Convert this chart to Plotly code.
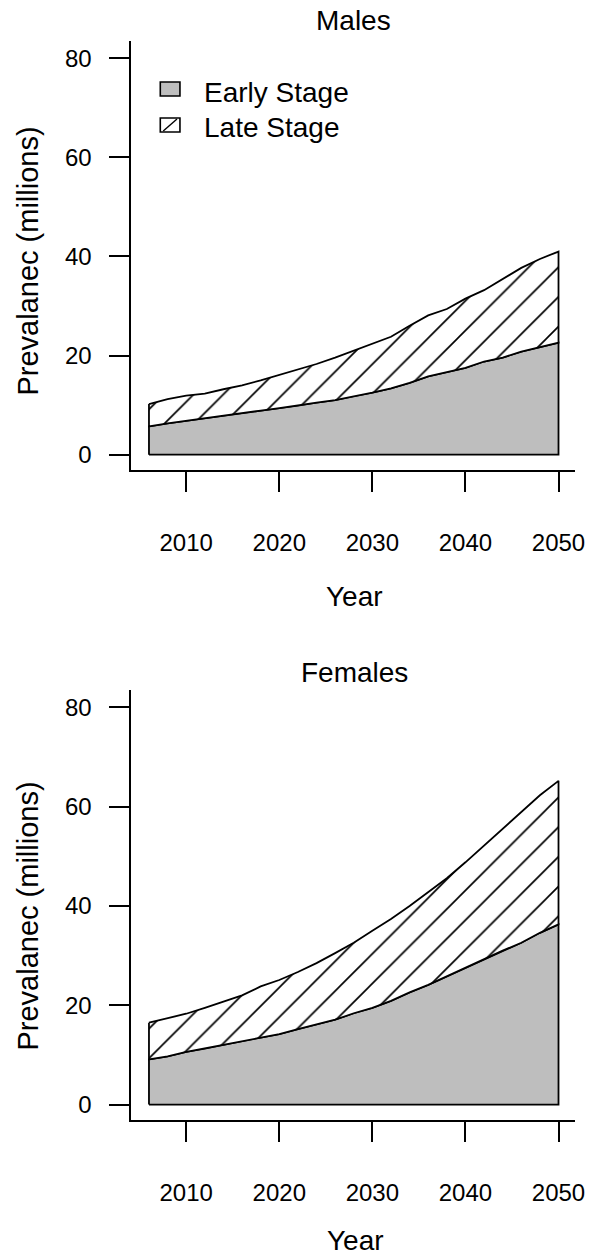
import plotly.graph_objects as go

# ---------------- data ----------------
years = [2006, 2008, 2010, 2012, 2014, 2016, 2018, 2020, 2022, 2024, 2026, 2028,
         2030, 2032, 2034, 2036, 2038, 2040, 2042, 2044, 2046, 2048, 2050]

male_early = [5.7, 6.3, 6.8, 7.4, 7.9, 8.4, 8.9, 9.4, 9.9, 10.5, 11.0, 11.8,
              12.5, 13.4, 14.5, 15.8, 16.6, 17.5, 18.8, 19.6, 20.8, 21.7, 22.6]
male_total = [10.2, 11.2, 11.9, 12.3, 13.2, 14.0, 15.0, 16.1, 17.2, 18.3, 19.6, 21.0,
              22.5, 23.8, 26.0, 28.1, 29.4, 31.5, 33.2, 35.5, 37.7, 39.5, 41.0]

female_early = [9.1, 9.7, 10.6, 11.3, 12.1, 12.8, 13.5, 14.2, 15.2, 16.2, 17.1, 18.4,
                19.5, 20.9, 22.6, 24.1, 25.8, 27.6, 29.3, 31.0, 32.6, 34.6, 36.3]
female_total = [16.5, 17.4, 18.3, 19.5, 20.7, 22.0, 23.8, 25.1, 26.7, 28.5, 30.5, 32.6,
                35.0, 37.4, 40.0, 42.8, 45.6, 48.8, 52.2, 55.7, 59.0, 62.3, 65.2]

x_ticks = [2010, 2020, 2030, 2040, 2050]
y_ticks = [0, 20, 40, 60, 80]
panel_titles = ["Males", "Females"]
legend_labels = ["Early Stage", "Late Stage"]
x_title = "Year"
y_title = "Prevalanec (millions)"

# ---------------- layout helpers ----------------
W, H = 601, 1258
FONT = "Liberation Sans, Arial, Helvetica, sans-serif"
GRAY = "#BEBEBE"


def px(xp):
    return xp / W


def py(yp):
    return 1 - yp / H


fig = go.Figure()

panels = [
    (male_early, male_total, "x", "y"),
    (female_early, female_total, "x2", "y2"),
]

for early, total, xa, ya in panels:
    # early stage polygon (solid gray)
    ex = [years[0]] + years + [years[-1], years[0]]
    ey = [0] + early + [0, 0]
    fig.add_trace(go.Scatter(
        x=ex, y=ey, mode="lines", fill="toself", fillcolor=GRAY,
        line=dict(color="black", width=1.8), xaxis=xa, yaxis=ya,
        showlegend=False, hoverinfo="skip"))
    # late stage polygon (hatched)
    lx = years + years[::-1] + [years[0]]
    ly = total + early[::-1] + [total[0]]
    fig.add_trace(go.Scatter(
        x=lx, y=ly, mode="lines", fill="toself",
        fillpattern=dict(shape="/", size=21, solidity=0.08,
                         fgcolor="black", bgcolor="white", fillmode="replace"),
        line=dict(color="black", width=1.8), xaxis=xa, yaxis=ya,
        showlegend=False, hoverinfo="skip"))

xr = [2004.1, 2051.8]
yr = [-3.1, 83.5]

axis_common = dict(
    showgrid=False, zeroline=False, showline=True, linecolor="black", linewidth=1.6,
    ticks="outside", ticklen=20, tickwidth=1.6, tickcolor="black",
    tickfont=dict(family=FONT, size=24, color="black"), fixedrange=True,
)

fig.update_layout(
    width=W, height=H, autosize=False,
    margin=dict(l=0, r=0, t=0, b=0),
    paper_bgcolor="white", plot_bgcolor="white",
    showlegend=False,
    xaxis=dict(domain=[px(133.5), px(585)], range=xr, tickvals=x_ticks,
               anchor="y", ticklabelstandoff=30, **axis_common),
    yaxis=dict(domain=[py(470), py(41)], range=yr, tickvals=y_ticks,
               anchor="x", ticklabelstandoff=13, **axis_common),
    xaxis2=dict(domain=[px(133.5), px(585)], range=xr, tickvals=x_ticks,
                anchor="y2", ticklabelstandoff=30, **axis_common),
    yaxis2=dict(domain=[py(1120), py(690)], range=yr, tickvals=y_ticks,
                anchor="x2", ticklabelstandoff=13, **axis_common),
)

big = dict(family=FONT, size=28, color="black")
ylab = dict(family=FONT, size=29, color="black")
ann = []
# titles
ann.append(dict(text=panel_titles[0], x=px(359), y=py(21), xref="paper", yref="paper",
                showarrow=False, font=big, xanchor="center", yanchor="middle"))
ann.append(dict(text=panel_titles[1], x=px(361), y=py(672), xref="paper", yref="paper",
                showarrow=False, font=big, xanchor="center", yanchor="middle"))
# x titles
ann.append(dict(text=x_title, x=px(360), y=py(597), xref="paper", yref="paper",
                showarrow=False, font=big, xanchor="center", yanchor="middle"))
ann.append(dict(text=x_title, x=px(362), y=py(1240), xref="paper", yref="paper",
                showarrow=False, font=big, xanchor="center", yanchor="middle"))
# y titles
ann.append(dict(text=y_title, x=px(28), y=py(261), xref="paper", yref="paper",
                showarrow=False, font=ylab, textangle=-90,
                xanchor="center", yanchor="middle"))
ann.append(dict(text=y_title, x=px(28), y=py(916), xref="paper", yref="paper",
                showarrow=False, font=ylab, textangle=-90,
                xanchor="center", yanchor="middle"))
# legend text
ann.append(dict(text=legend_labels[0], x=px(205), y=py(93), xref="paper", yref="paper",
                showarrow=False, font=big, xanchor="left", yanchor="middle"))
ann.append(dict(text=legend_labels[1], x=px(205), y=py(127), xref="paper", yref="paper",
                showarrow=False, font=big, xanchor="left", yanchor="middle"))

shapes = [
    dict(type="rect", xref="paper", yref="paper", x0=px(163), x1=px(183),
         y0=py(96), y1=py(82), fillcolor=GRAY, line=dict(color="black", width=1.6)),
    dict(type="rect", xref="paper", yref="paper", x0=px(163), x1=px(183),
         y0=py(132), y1=py(118), fillcolor="white", line=dict(color="black", width=1.6)),
    dict(type="line", xref="paper", yref="paper", x0=px(166), x1=px(180),
         y0=py(131), y1=py(119), line=dict(color="black", width=1.4)),
]

fig.update_layout(annotations=ann, shapes=shapes)

fig.write_html("out.html", config={"displayModeBar": False},
               post_script="document.body.style.margin='0';document.body.style.padding='0';")
